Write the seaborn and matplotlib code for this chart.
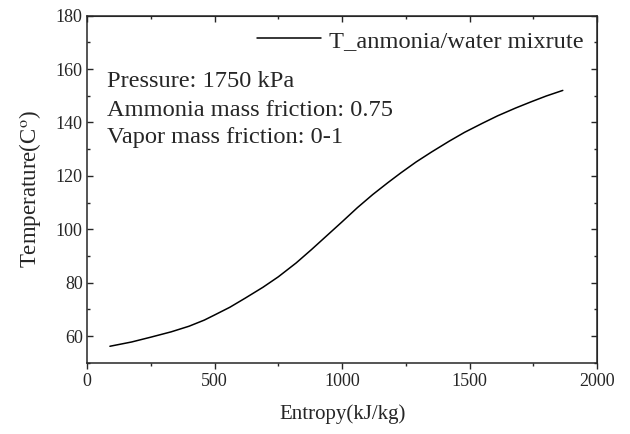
import numpy as np
import pandas as pd
import matplotlib
matplotlib.use("Agg")
import matplotlib.pyplot as plt
from matplotlib.ticker import MultipleLocator
import seaborn as sns

# values
entropy = [90, 175, 250, 330, 400, 460, 500, 560, 620, 690, 750, 820, 880, 940,
           1000, 1060, 1120, 1180, 1230, 1290, 1350, 1420, 1480, 1550, 1610,
           1680, 1740, 1800, 1865]
temperature = [56.2, 57.8, 59.6, 61.6, 63.7, 66.0, 67.9, 70.8, 74.2, 78.3, 82.2,
               87.4, 92.4, 97.6, 102.8, 108.1, 113.0, 117.5, 121.1, 125.2, 128.9,
               133.0, 136.3, 139.7, 142.5, 145.4, 147.7, 149.9, 152.0]
series_name = "T_anmonia/water mixrute"
notes = ["Pressure: 1750 kPa", "Ammonia mass friction: 0.75", "Vapor mass friction: 0-1"]

sns.set_style("ticks")
plt.rcParams["font.family"] = ["Liberation Serif", "DejaVu Serif"]
plt.rcParams["mathtext.fontset"] = "stix"

df = pd.DataFrame({"Entropy": entropy, "Temperature": temperature, "name": series_name})

fig = plt.figure(figsize=(6.3, 4.34), dpi=100)
ax = fig.add_axes([0.138, 0.164, 0.810, 0.800])

sns.lineplot(data=df, x="Entropy", y="Temperature", hue="name",
             palette=["black"], linewidth=1.1, ax=ax, sort=False)

ax.set_xlim(0, 2000)
ax.set_ylim(50, 180)
ax.xaxis.set_major_locator(MultipleLocator(500))
ax.xaxis.set_minor_locator(MultipleLocator(250))
ax.yaxis.set_minor_locator(MultipleLocator(10))
ax.set_yticks(np.arange(60, 181, 20))

ax.tick_params(axis="x", which="major", direction="out", length=4.5, width=1, labelsize=13, pad=3)
ax.tick_params(axis="x", which="minor", direction="out", length=2.5, width=1)
ax.tick_params(axis="y", which="major", direction="in", length=4.5, width=1, labelsize=13, pad=3)
ax.tick_params(axis="y", which="minor", direction="in", length=2.5, width=1)

for side in ["top", "right", "left", "bottom"]:
    ax.spines[side].set_visible(True)
    ax.spines[side].set_linewidth(1.1)

# top and right ticks point inward
top = ax.secondary_xaxis("top")
top.xaxis.set_major_locator(MultipleLocator(500))
top.xaxis.set_minor_locator(MultipleLocator(250))
top.tick_params(which="major", direction="in", length=4.5, width=1, labeltop=False)
top.tick_params(which="minor", direction="in", length=2.5, width=1)

right = ax.secondary_yaxis("right")
right.yaxis.set_major_locator(MultipleLocator(20))
right.yaxis.set_minor_locator(MultipleLocator(10))
right.tick_params(which="major", direction="in", length=4.5, width=1, labelright=False)
right.tick_params(which="minor", direction="in", length=2.5, width=1)

ax.set_xlabel("Entropy(kJ/kg)", fontsize=15, labelpad=10)
ax.set_ylabel("Temperature(C$^\\mathrm{o}$)", fontsize=16.5, labelpad=9)

handles, labels = ax.get_legend_handles_labels()
ax.legend(handles, labels, loc="upper right", frameon=False, fontsize=17.6,
          handlelength=2.6, borderaxespad=0.17, handletextpad=0.33)

ypos = [0.811, 0.727, 0.648]
for txt, yp in zip(notes, ypos):
    ax.text(0.0386, yp, txt, transform=ax.transAxes,
            fontsize=17.6, va="center", ha="left")

fig.savefig("out.png", dpi=100)
